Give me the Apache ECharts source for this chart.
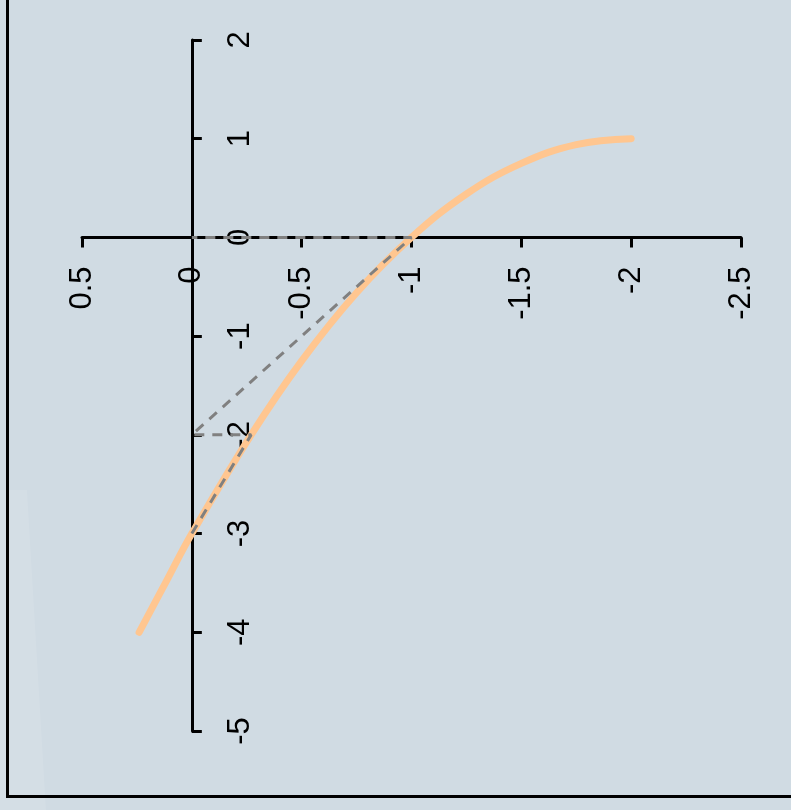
<!DOCTYPE html>
<html>
<head>
<meta charset="utf-8">
<script src="https://cdn.jsdelivr.net/npm/echarts@6/dist/echarts.min.js"></script>
<style>
  html, body { margin: 0; padding: 0; background: #d0dbe3; }
  #chart { width: 791px; height: 810px; }
</style>
</head>
<body>
<div id="chart"></div>
<script>
// Horizontal axis (drawn reversed: 0.5 on the left, -2.5 on the right)
const xMin = -2.5;
const xMax = 0.5;
const xStep = 0.5;
// Vertical axis
const yMin = -5;
const yMax = 2;
const yStep = 1;

// Orange curve: points (x, y)
const curveX = [0.24, 0.12, 0, -0.27, -0.5, -0.75, -1, -1.25, -1.5, -1.75, -2];
const curveY = [-4, -3.5, -3, -2, -1.25, -0.56, 0, 0.44, 0.75, 0.94, 1];

// Grey dashed construction path
const guideX = [0, -0.27, 0, -1, 0];
const guideY = [-3, -2, -2, 0, 0];

const labelFont = '"Liberation Sans Narrow", "Liberation Sans", Arial, sans-serif';

const gridLeft = 82, gridRight = 50, gridTop = 40, gridBottom = 79;
const chartW = 791, chartH = 810;

const chart = echarts.init(document.getElementById('chart'), null, { renderer: 'canvas' });

// the two axes cross at the origin: shift each one from its grid edge to the zero line
const plotW = chartW - gridLeft - gridRight;
const plotH = chartH - gridTop - gridBottom;
const zeroFromBottom = plotH * (0 - yMin) / (yMax - yMin);
const zeroFromLeft = plotW * (xMax - 0) / (xMax - xMin);

chart.setOption({
  backgroundColor: '#d0dbe3',
  animation: false,
  graphic: [
    {
      type: 'polygon',
      z: -10,
      silent: true,
      shape: { points: [[0, 490], [27, 490], [46, 810], [0, 810]] },
      style: { fill: 'rgba(255,255,255,0.09)' }
    },
    {
      type: 'rect',
      z: 100,
      silent: true,
      shape: { x: 7.5, y: -20, width: 820, height: 816.5 },
      style: { fill: 'none', stroke: '#000', lineWidth: 3 }
    }
  ],
  grid: { left: gridLeft, right: gridRight, top: gridTop, bottom: gridBottom, containLabel: false },
  xAxis: {
    type: 'value',
    position: 'bottom',
    offset: -zeroFromBottom,
    min: xMin,
    max: xMax,
    interval: xStep,
    inverse: true,
    splitLine: { show: false },
    axisLine: { show: true, onZero: false, lineStyle: { color: '#000', width: 3 } },
    axisTick: { show: true, length: 10, lineStyle: { color: '#000', width: 3 } },
    axisLabel: {
      rotate: 90,
      margin: 29,
      color: '#000',
      fontSize: 31,
      fontFamily: labelFont
    }
  },
  yAxis: {
    type: 'value',
    position: 'left',
    offset: -zeroFromLeft,
    min: yMin,
    max: yMax,
    interval: yStep,
    splitLine: { show: false },
    axisLine: { show: true, onZero: false, lineStyle: { color: '#000', width: 3 } },
    axisTick: { show: true, inside: true, length: 10, lineStyle: { color: '#000', width: 3 } },
    axisLabel: {
      inside: true,
      rotate: 90,
      margin: 33,
      color: '#000',
      fontSize: 31,
      fontFamily: labelFont
    }
  },
  series: [
    {
      type: 'line',
      data: curveX.map((x, i) => [x, curveY[i]]),
      smooth: 0.4,
      showSymbol: false,
      lineStyle: { color: '#ffc690', width: 7, cap: 'round' },
      z: 3
    },
    {
      type: 'line',
      data: guideX.map((x, i) => [x, guideY[i]]),
      showSymbol: false,
      lineStyle: { color: '#808080', width: 3, type: [10, 8] },
      z: 4
    }
  ]
});
</script>
</body>
</html>
